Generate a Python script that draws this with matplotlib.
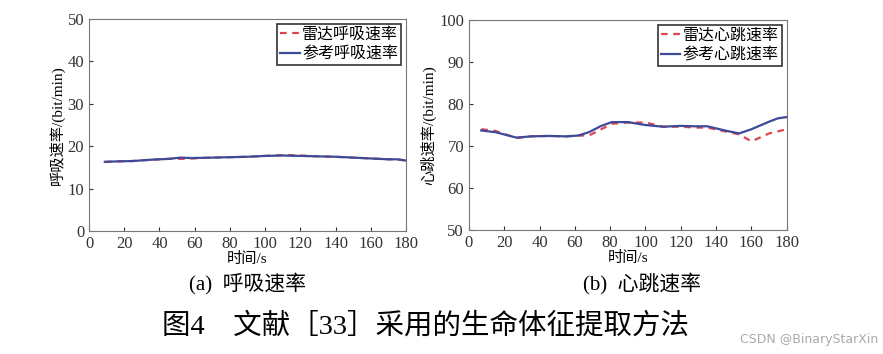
import matplotlib.pyplot as plt

plt.rcParams['font.family'] = ['Liberation Serif', 'Noto Sans CJK SC']
plt.rcParams['axes.unicode_minus'] = False

# respiration (a)
resp_t = [9, 15, 25, 35, 45, 52, 58, 70, 80, 90, 100, 110, 120, 130, 140, 150, 160, 170, 175, 180]
resp_ref = [16.3, 16.4, 16.5, 16.8, 17.0, 17.3, 17.2, 17.3, 17.4, 17.5, 17.7, 17.8, 17.7, 17.6, 17.5, 17.3, 17.1, 16.9, 16.9, 16.6]
resp_radar = [16.3, 16.4, 16.5, 16.8, 17.0, 17.0, 17.1, 17.3, 17.4, 17.5, 17.7, 17.9, 17.8, 17.6, 17.5, 17.3, 17.1, 16.9, 16.9, 16.6]

# heart rate (b)
hr_t = [7, 15, 27, 35, 45, 55, 62, 68, 75, 81, 90, 100, 110, 120, 128, 135, 145, 153, 160, 170, 175, 180]
hr_ref = [73.7, 73.3, 72.0, 72.3, 72.4, 72.3, 72.5, 73.3, 74.8, 75.7, 75.7, 75.0, 74.6, 74.8, 74.7, 74.7, 73.7, 73.0, 74.0, 75.8, 76.6, 76.9]
hr_radar = [74.0, 73.6, 71.9, 72.3, 72.4, 72.3, 72.5, 72.5, 74.0, 75.3, 75.6, 75.6, 74.6, 74.6, 74.4, 74.4, 73.5, 72.8, 71.1, 73.0, 73.5, 74.0]

RED = '#e0454f'
BLUE = '#3c4a98'

fig = plt.figure(figsize=(8.83, 3.54), dpi=100)
ax1 = fig.add_axes([0.1008, 0.3475, 0.359, 0.599])
ax2 = fig.add_axes([0.531, 0.3503, 0.360, 0.593])


def style(ax, ylim, yticks, ylabel, t, radar, ref, labels):
    ax.plot(t, radar, '--', color=RED, lw=1.6, dashes=(3, 2.5), label=labels[0])
    ax.plot(t, ref, '-', color=BLUE, lw=1.6, label=labels[1])
    ax.set_xlim(0, 180)
    ax.set_ylim(*ylim)
    ax.set_xticks(range(0, 181, 20))
    ax.set_yticks(yticks)
    ax.tick_params(direction='in', length=3, labelsize=12, colors='#333333')
    for s in ax.spines.values():
        s.set_color('#777777')
    ax.set_xlabel('时间/s', fontsize=11, labelpad=0)
    ax.set_ylabel(ylabel, fontsize=11, labelpad=2)
    leg = ax.legend(loc='upper right', fontsize=11.5, frameon=True, fancybox=False,
                    edgecolor='black', handlelength=1.2, handletextpad=0.15,
                    borderpad=0.2, labelspacing=0.2, borderaxespad=0.3)
    leg.get_frame().set_linewidth(1.2)


style(ax1, (0, 50), range(0, 51, 10), '呼吸速率/(bit/min)', resp_t, resp_radar, resp_ref,
      ['雷达呼吸速率', '参考呼吸速率'])
style(ax2, (50, 100), range(50, 101, 10), '心跳速率/(bit/min)', hr_t, hr_radar, hr_ref,
      ['雷达心跳速率', '参考心跳速率'])

fig.text(248 / 883, 1 - 283 / 354, '(a)  呼吸速率', ha='center', va='center', fontsize=15)
fig.text(642 / 883, 1 - 283 / 354, '(b)  心跳速率', ha='center', va='center', fontsize=15)
fig.text(425 / 883, 1 - 326 / 354, '图4    文献［33］采用的生命体征提取方法', ha='center', va='center', fontsize=20.5)
fig.text(0.995, 1 - 340 / 354, 'CSDN @BinaryStarXin', ha='right', va='center', fontsize=9,
         color='#aaaaaa', family=['DejaVu Sans'])

fig.savefig('out.png', dpi=100)
